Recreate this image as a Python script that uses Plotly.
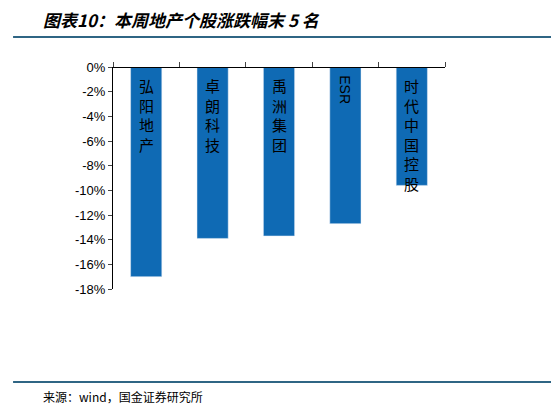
import plotly.graph_objects as go

stocks = ['弘阳地产', '卓朗科技', '禹洲集团', 'ESR', '时代中国控股']
changes = [-17.0, -13.9, -13.7, -12.7, -9.6]
y_ticks = [0, -2, -4, -6, -8, -10, -12, -14, -16, -18]
y_labels = [f'{v}%' for v in y_ticks]

line_col = '#2f6584'
bar_col = '#0f6ab4'

fig = go.Figure()
fig.add_trace(go.Bar(x=stocks, y=changes, marker=dict(color=bar_col), width=0.47))

# category names written down inside the bars
for name in stocks:
    if name.isascii():
        fig.add_annotation(x=name, y=-0.5, text=name, textangle=90, showarrow=False,
                           yanchor='top', font=dict(size=14, color='black', family='Liberation Sans'))
    else:
        fig.add_annotation(x=name, y=-0.5, text='<br>'.join(name), showarrow=False,
                           yanchor='top', font=dict(size=15, color='black', family='Noto Sans CJK SC'))

shapes = [
    dict(type='line', xref='paper', yref='paper', x0=-0.301, x1=1.349, y0=y, y1=y,
         line=dict(color=line_col, width=2))
    for y in [1.275, 1.135, -0.419]
]

fig.update_layout(
    width=559, height=411,
    margin=dict(l=105, r=122, t=59, b=130),
    plot_bgcolor='white', paper_bgcolor='white',
    showlegend=False,
    shapes=shapes,
    xaxis=dict(side='top', showticklabels=False, ticks='outside', tickson='boundaries', ticklen=5,
               showline=True, linecolor='black', linewidth=1, anchor='free', position=1),
    yaxis=dict(range=[-18, 0], tickvals=y_ticks, ticktext=y_labels, ticks='outside', ticklen=4,
               showline=True, linecolor='black', showgrid=False, zeroline=False,
               tickfont=dict(size=13, color='black', family='Liberation Sans')),
)
fig.add_annotation(text='<b><i>图表10：本周地产个股涨跌幅末 5 名</i></b>', xref='paper', yref='paper',
                   x=-0.217, y=1.216, xanchor='left', yanchor='middle', showarrow=False,
                   font=dict(size=17, color='black', family='Noto Sans CJK SC'))
fig.add_annotation(text='来源：wind，国金证券研究所', xref='paper', yref='paper', x=-0.217, y=-0.486,
                   xanchor='left', yanchor='middle', showarrow=False,
                   font=dict(size=12, color='black', family='Noto Sans CJK SC'))

fig.write_html('out.html')
